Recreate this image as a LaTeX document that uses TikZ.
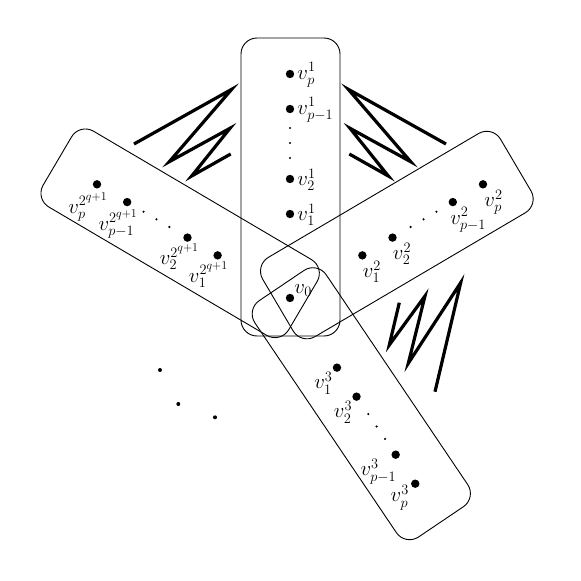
\documentclass[tikz,border=0pt]{standalone}
\usepackage{amsmath,amssymb}
\usetikzlibrary{calc}

\tikzset{
	vtx/.style={circle,fill=black,inner sep=0pt,minimum size=8.4pt},
	tiny/.style={circle,fill=black,inner sep=0pt,minimum size=2.4pt},
	lab/.style={inner sep=0pt},
	arm/.style={rounded corners=16pt},
	zig/.style={line width=3.2pt}
}

\begin{document}
\begin{tikzpicture}[x=1pt,y=1pt,line width=0.9pt,font=\huge]
	
	\useasboundingbox (-290,-283) rectangle (291,298);
	
	% Centre
	\node [vtx] (v0) at (0,0) {};
	\node [lab,anchor=south west] (l0) at ($ (v0) + (4,1) $) {$v_0$};
	
	% Arms
	\draw [arm] (-49,-38) rectangle (50,260);
	\draw [arm,rotate=30.5] (-14,-46) rectangle (262,46);
	\draw [arm,rotate=-56] (-15,-43) rectangle (270,43);
	\draw [arm,rotate=149.5] (-15,-44) rectangle (270,44);
	
	% Vertices on the arms
	\foreach \a/\k in {90/1,30.5/2,-56/3,149.5/4} {
		\node [vtx] (v\k-1) at (\a:84) {};
		\node [vtx] (v\k-2) at (\a:119) {};
		\node [vtx] (v\k-3) at (\a:189) {};
		\node [vtx] (v\k-4) at (\a:224) {};
		\foreach \r in {140,155,170}
			\node [tiny] (e\k-\r) at (\a:\r) {};
	}
	
	% Arm 1
	\node [lab,anchor=west] (l1-1) at ($ (v1-1) + (7,-1) $) {$v_1^1$};
	\node [lab,anchor=west] (l1-2) at ($ (v1-2) + (7,-1) $) {$v_2^1$};
	\node [lab,anchor=west] (l1-3) at ($ (v1-3) + (7,-1) $) {$v_{p-1}^1$};
	\node [lab,anchor=west] (l1-4) at ($ (v1-4) + (7,-1) $) {$v_p^1$};
	
	% Arm 2
	\node [lab,anchor=north west] (l2-1) at ($ (v2-1) + (0,-5) $) {$v_1^2$};
	\node [lab,anchor=north west] (l2-2) at ($ (v2-2) + (0,-5) $) {$v_2^2$};
	\node [lab,anchor=north west] (l2-3) at ($ (v2-3) + (-3,-5) $) {$v_{p-1}^2$};
	\node [lab,anchor=north west] (l2-4) at ($ (v2-4) + (1,-5) $) {$v_p^2$};
	
	% Arm 3
	\node [lab,anchor=north east] (l3-1) at ($ (v3-1) + (-4,-4) $) {$v_1^3$};
	\node [lab,anchor=north east] (l3-2) at ($ (v3-2) + (-4,-4) $) {$v_2^3$};
	\node [lab,anchor=north east] (l3-3) at ($ (v3-3) + (1,-4) $) {$v_{p-1}^3$};
	\node [lab,anchor=north east] (l3-4) at ($ (v3-4) + (-6,-1) $) {$v_p^3$};
	
	% Arm 4
	\node [lab,anchor=north] (l4-1) at ($ (v4-1) + (-9,-6) $) {$v_1^{2^{q+1}}$};
	\node [lab,anchor=north] (l4-2) at ($ (v4-2) + (-8,-6) $) {$v_2^{2^{q+1}}$};
	\node [lab,anchor=north] (l4-3) at ($ (v4-3) + (-9,-7) $) {$v_{p-1}^{2^{q+1}}$};
	\node [lab,anchor=north] (l4-4) at ($ (v4-4) + (-9,-8) $) {$v_p^{2^{q+1}}$};
	
	% Zigzags
	\foreach \s in {1,-1}
		\draw [zig,xscale=\s] (-156,154) -- (-58.3,208.7) -- (-120.7,136.3)
			-- (-60,169.7) -- (-98.3,122) -- (-59.3,144);
	\draw [zig] (109.3,-4.7) -- (99.3,-47) -- (135,2) -- (118.3,-65.3)
		-- (170.7,15.3) -- (145,-93.7);
	
	% Further arms
	\node [tiny,minimum size=4pt] (d1) at (-130,-72) {};
	\node [tiny,minimum size=4pt] (d2) at (-111.7,-106) {};
	\node [tiny,minimum size=4pt] (d3) at (-75,-119.3) {};
	
\end{tikzpicture}
\end{document}
